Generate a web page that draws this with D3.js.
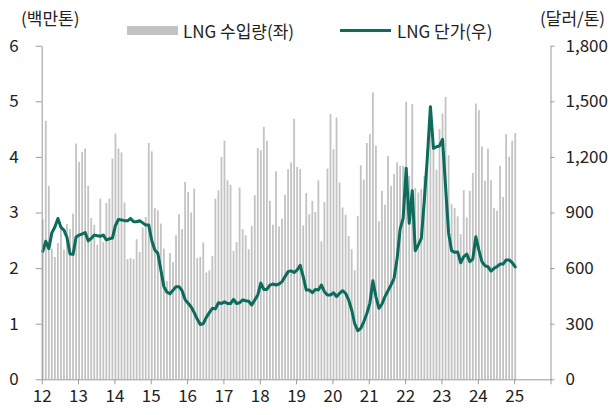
<!DOCTYPE html>
<html><head><meta charset="utf-8">
<script src="https://cdn.jsdelivr.net/npm/d3@7/dist/d3.min.js"></script>
<style>
html,body{margin:0;padding:0;background:#fff;}
svg text{font-family:"Noto Sans CJK KR","Noto Sans",sans-serif;fill:#222;}
</style></head>
<body><svg id="c" width="612" height="415"></svg>
<script>
// Monthly series from Jan 2012 to Jan 2025
const startYear = 2012;
const yearLabels = ["12","13","14","15","16","17","18","19","20","21","22","23","24","25"];
const leftTicks = [0,1,2,3,4,5,6];
const rightTicks = [0,300,600,900,1200,1500,1800];
const legendLabels = ["LNG 수입량(좌)", "LNG 단가(우)"];
const leftTitle = "(백만톤)";
const rightTitle = "(달러/톤)";

// LNG import volume (million tons)
const importVolume = [
 2.88,4.65,3.48,2.35,2.20,2.45,2.72,2.33,2.79,2.70,2.98,4.24,
 3.91,4.09,4.15,3.48,2.90,2.78,2.42,3.25,2.47,3.17,3.25,3.97,
 4.42,4.15,4.08,3.18,2.16,2.18,2.16,2.52,2.29,2.73,2.92,4.25,
 4.10,3.08,3.04,2.80,2.35,1.77,2.27,2.11,2.59,2.97,2.70,3.55,
 3.37,3.00,3.43,2.18,2.20,2.46,1.92,1.96,2.22,3.25,3.40,4.00,
 4.29,3.58,3.50,2.31,2.47,3.45,2.70,2.59,2.34,2.76,3.31,4.16,
 4.12,4.54,4.29,3.21,2.78,3.74,2.75,2.89,3.32,3.78,3.90,4.69,
 3.82,3.78,2.77,3.35,2.97,3.21,3.01,3.58,2.48,3.19,3.79,4.77,
 4.14,4.71,3.54,3.09,2.96,2.58,2.34,1.96,2.94,3.85,3.59,4.25,
 4.41,5.16,4.20,2.84,3.39,3.14,4.02,3.48,3.69,3.90,3.84,3.84,
 4.99,3.66,4.95,3.44,3.36,3.42,3.66,4.13,4.92,4.14,3.77,4.50,
 4.78,5.08,4.03,3.15,3.08,2.93,2.61,3.40,2.91,3.39,3.71,4.96,
 4.84,4.19,3.57,4.15,3.58,3.08,3.03,3.84,3.28,4.41,4.00,4.29,
 4.43
];
// LNG unit price (USD/ton)
const unitPrice = [
 690,745,705,790,822,868,820,805,765,676,674,768,
 778,784,792,747,760,778,775,772,778,752,758,762,
 830,863,860,856,855,868,850,850,856,844,832,832,
 748,698,680,590,500,470,462,480,500,500,478,430,
 410,390,360,325,296,300,334,360,383,380,413,409,
 418,409,409,431,409,413,428,424,421,401,428,455,
 519,485,485,508,514,509,514,527,554,581,585,576,
 590,615,554,482,482,467,485,482,509,473,455,455,
 467,446,464,478,464,428,374,300,262,275,310,355,
 410,532,446,383,406,446,478,509,545,650,810,870,
 1139,842,1018,694,725,761,968,1201,1471,1246,1255,1259,
 1295,1040,790,694,685,687,629,662,676,635,649,769,
 697,635,613,608,584,599,608,622,622,644,644,629,
 606
];

const svg = d3.select("#c");
const x = d3.scaleLinear().domain([0, 168]).range([41.7, 550.5]);
const yL = d3.scaleLinear().domain([0, 6]).range([379.3, 45.7]);
const yR = d3.scaleLinear().domain([0, 1800]).range([379.3, 45.7]);
const axisColor = "#9a9a9a";
const barColor = "#c3c3c3";
const lineColor = "#0b6b5c";
const fs = 17;

// bars
svg.append("g").selectAll("rect").data(importVolume).join("rect")
  .attr("x", (d,i) => x(i + 0.35) - 0.9)
  .attr("width", 1.8)
  .attr("y", d => yL(d))
  .attr("height", d => yL(0) - yL(d))
  .attr("fill", barColor);

// line
const line = d3.line().x((d,i) => x(i + 0.35)).y(d => yR(d)).curve(d3.curveLinear);
svg.append("path").datum(unitPrice).attr("d", line)
  .attr("fill","none").attr("stroke", lineColor).attr("stroke-width", 3)
  .attr("stroke-linejoin","round").attr("stroke-linecap","round");

function styleAxis(g){
  g.selectAll("path,line").attr("stroke", axisColor).attr("stroke-width", 1);
  g.selectAll("text").attr("font-size", fs).attr("fill","#222")
   .attr("font-family", '"Noto Sans CJK KR","Noto Sans",sans-serif');
}

// x axis
const xTickVals = d3.range(0, 15).map(k => k * 12);
const xAxis = d3.axisBottom(x).tickValues(xTickVals)
  .tickFormat((d,i) => i < yearLabels.length ? yearLabels[i] : "")
  .tickSize(5).tickSizeOuter(0).tickPadding(6);
svg.append("g").attr("transform", `translate(0,${yL(0)})`).call(xAxis).call(styleAxis);

// left axis
const lAxis = d3.axisLeft(yL).tickValues(leftTicks).tickFormat(d3.format("d"))
  .tickSize(6).tickSizeOuter(0).tickPadding(17);
svg.append("g").attr("transform", `translate(${x(0)},0)`).call(lAxis).call(styleAxis);

// right axis
const rAxis = d3.axisRight(yR).tickValues(rightTicks).tickFormat(d3.format(","))
  .tickSize(4).tickSizeOuter(0).tickPadding(11);
svg.append("g").attr("transform", `translate(${x(168)},0)`).call(rAxis).call(styleAxis);

// titles
svg.append("text").attr("x", 21).attr("y", 17).attr("dominant-baseline","central")
  .attr("font-size", fs).text(leftTitle);
svg.append("text").attr("x", 540).attr("y", 17).attr("dominant-baseline","central")
  .attr("font-size", fs).text(rightTitle);

// legend
const lg = svg.append("g");
lg.append("rect").attr("x", 127).attr("y", 26).attr("width", 51).attr("height", 9).attr("fill", barColor);
lg.append("text").attr("x", 183).attr("y", 30.5).attr("dominant-baseline","central")
  .attr("font-size", fs).text(legendLabels[0]);
lg.append("line").attr("x1", 340).attr("x2", 391).attr("y1", 30.5).attr("y2", 30.5)
  .attr("stroke", lineColor).attr("stroke-width", 3);
lg.append("text").attr("x", 397).attr("y", 30.5).attr("dominant-baseline","central")
  .attr("font-size", fs).text(legendLabels[1]);
</script></body></html>
